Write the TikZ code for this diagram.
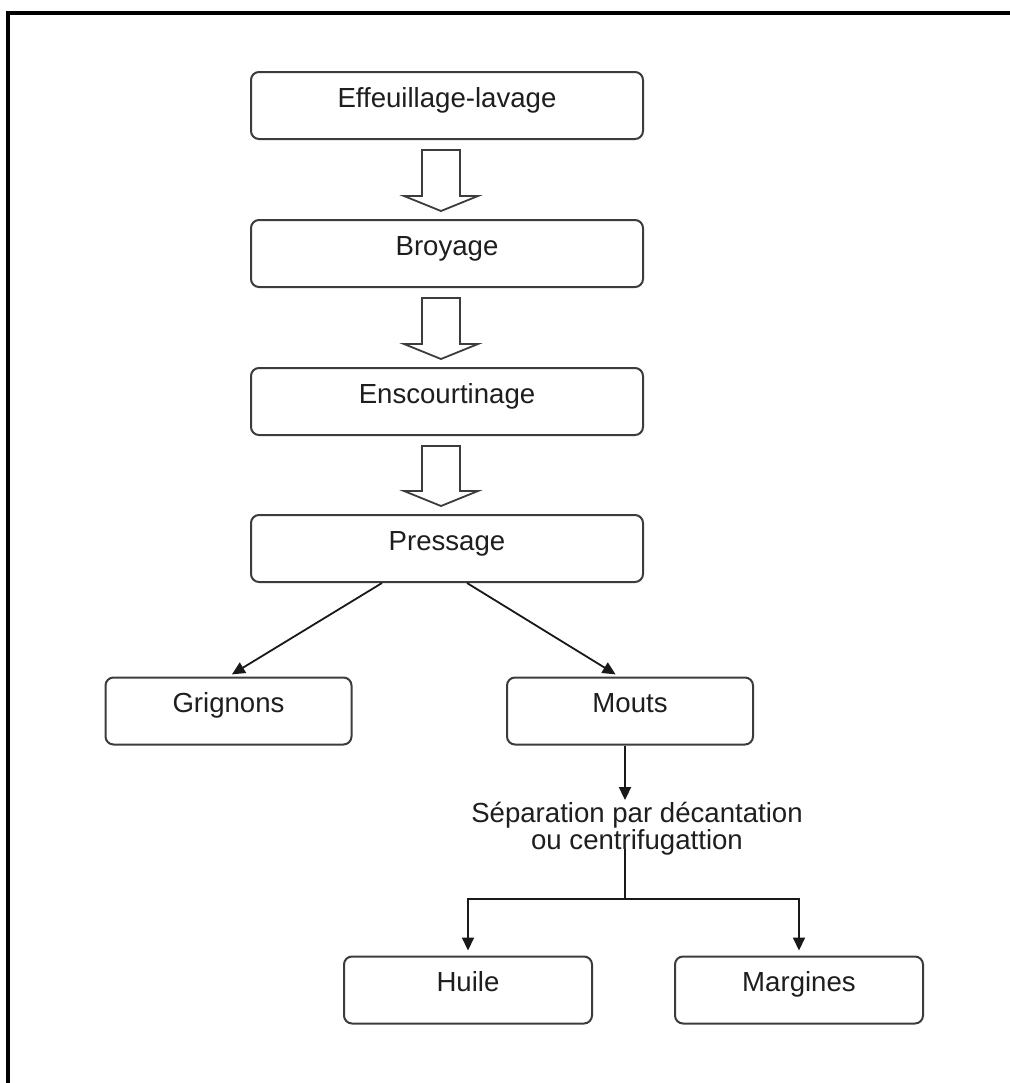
\documentclass[tikz,border=0pt]{standalone}
\usepackage{fontspec}
\setmainfont{Liberation Sans}
\usetikzlibrary{arrows.meta,calc}
\definecolor{boxgray}{HTML}{3C3C3C}
\definecolor{txt}{HTML}{1E1E1E}
\newcommand\myblockarrow[2]{%
  \draw[blkarrow] ($(#1.south)+(-25,10)$) -- ($(#2.north)+(-25,-23)$) -- ($(#2.north)+(-43,-23)$)
    -- ($(#2.north)+(-6,-8)$) -- ($(#2.north)+(31,-23)$) -- ($(#2.north)+(13,-23)$)
    -- ($(#1.south)+(13,10)$) -- cycle;}
\begin{document}
\begin{tikzpicture}[x=0.5pt,y=-0.5pt,
  box/.style={draw=boxgray, line width=1pt, rounded corners=4pt, minimum height=33.5pt,
    inner sep=0pt, font=\fontsize{13.8}{16}\selectfont, text=txt, text height=10pt, text depth=8.1pt},
  wide/.style={box, minimum width=196pt},
  narrow/.style={box, minimum width=123pt},
  blkarrow/.style={draw=boxgray, line width=0.9pt, fill=white, line join=miter},
  conn/.style={draw=black!90, line width=0.9pt, -{Triangle[length=6.5pt,width=6pt]}},
  plain/.style={draw=black!90, line width=0.9pt}]
\useasboundingbox (0,0) rectangle (1010,1083);
\fill[white] (0,0) rectangle (1010,1083);
% frame (right and bottom sides lie outside the picture)
\draw[line width=1.8pt] (8,1100) -- (8,13) -- (1030,13);

\node[wide] (b1) at (447,105.5) {Effeuillage-lavage};
\node[wide] (b2) at (447,253.5) {Broyage};
\node[wide] (b3) at (447,401.5) {Enscourtinage};
\node[wide] (b4) at (447,548.5) {Pressage};

\myblockarrow{b1}{b2}
\myblockarrow{b2}{b3}
\myblockarrow{b3}{b4}

\node[narrow] (grig) at (228.5,711) {Grignons};
\node[narrow] (mouts) at (630,711) {Mouts};

\draw[conn, shorten >=2pt] ($(b4.south)+(-65,0)$) -- (grig.north);
\draw[conn, shorten >=2pt] ($(b4.south)+(20,0)$) -- ($(mouts.north)+(-11,0)$);

\node[font=\fontsize{13.8}{13.5}\selectfont, text=txt, align=center, inner sep=0pt]
  (sep) at (637,829) {Séparation par décantation\\ou centrifugattion};

\coordinate (split) at (625,899);
\draw[conn, shorten >=1pt] (mouts.south -| split) -- (sep.north -| split);
\draw[plain] ($(sep.south -| split)+(0,-7)$) -- (split);

\node[narrow, minimum width=124pt] (huile) at (468,990) {Huile};
\node[narrow, minimum width=124pt] (marg) at (799,990) {Margines};

\draw[conn, shorten >=2.5pt] (split) -| (huile.north);
\draw[conn, shorten >=2.5pt] (split) -| (marg.north);
\end{tikzpicture}
\end{document}
